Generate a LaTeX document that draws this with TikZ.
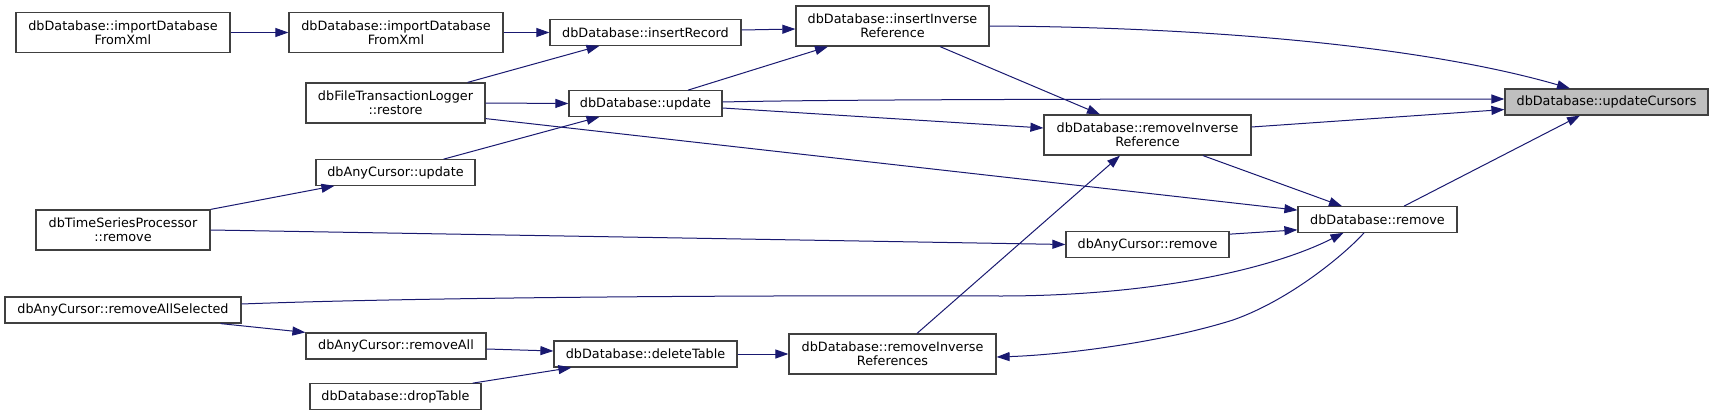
\documentclass[tikz,border=0pt]{standalone}
\usepackage{fontspec}
\setmainfont{DejaVu Sans}
\usetikzlibrary{arrows.meta,calc}
\definecolor{edgeblue}{HTML}{191970}
\definecolor{boxline}{HTML}{404040}
\definecolor{hilite}{HTML}{BFBFBF}
\begin{document}
\begin{tikzpicture}[x=1pt,y=-1pt,
  fn/.style={draw=boxline,line width=1.2pt,fill=white,inner sep=0pt,align=center,
    font=\fontsize{12.8}{14.2}\selectfont,text=black},
  e/.style={draw=edgeblue,line width=1pt,-{Triangle[length=13pt,width=9pt]},color=edgeblue}]
\useasboundingbox (0,0) rectangle (1713,415);
\node[fn,minimum width=214pt,minimum height=40pt] (imp1) at (123,32.5) {dbDatabase::importDatabase\\FromXml};
\node[fn,minimum width=214pt,minimum height=40pt] (imp2) at (396,32.5) {dbDatabase::importDatabase\\FromXml};
\node[fn,minimum width=191pt,minimum height=25.5pt] (insRec) at (645.5,32.5) {dbDatabase::insertRecord};
\node[fn,minimum width=193pt,minimum height=40pt] (insInv) at (892.5,26) {dbDatabase::insertInverse\\Reference};
\node[fn,minimum width=179pt,minimum height=40pt] (restore) at (395.5,103) {dbFileTransactionLogger\\::restore};
\node[fn,minimum width=153pt,minimum height=25.5pt] (upd) at (645.5,103.5) {dbDatabase::update};
\node[fn,minimum width=207pt,minimum height=40pt] (remInv) at (1147.5,135) {dbDatabase::removeInverse\\Reference};
\node[fn,fill=hilite,minimum width=203pt,minimum height=26pt] (updCur) at (1606.5,102) {dbDatabase::updateCursors};
\node[fn,minimum width=159pt,minimum height=25.5pt] (acUpd) at (395.5,172.5) {dbAnyCursor::update};
\node[fn,minimum width=174pt,minimum height=40pt] (tsp) at (123,230) {dbTimeSeriesProcessor\\::remove};
\node[fn,minimum width=163pt,minimum height=25.5pt] (acRem) at (1147.5,244.5) {dbAnyCursor::remove};
\node[fn,minimum width=159pt,minimum height=25.5pt] (dbRem) at (1377.5,219.5) {dbDatabase::remove};
\node[fn,minimum width=236pt,minimum height=26pt] (ras) at (123,310) {dbAnyCursor::removeAllSelected};
\node[fn,minimum width=180pt,minimum height=26pt] (remAll) at (396,346) {dbAnyCursor::removeAll};
\node[fn,minimum width=183pt,minimum height=26pt] (delT) at (645.5,354) {dbDatabase::deleteTable};
\node[fn,minimum width=207pt,minimum height=40pt] (remInvs) at (892.5,354) {dbDatabase::removeInverse\\References};
\node[fn,minimum width=171pt,minimum height=25.5pt] (dropT) at (395.5,396.5) {dbDatabase::dropTable};

% edges
\draw[e] (imp1.east) -- (imp2.west);
\draw[e] (imp2.east) -- (insRec.west);
\draw[e] ([xshift=-18pt]restore.north east) -- ([xshift=-46pt]insRec.south);
\draw[e] (restore.east) -- (upd.west);
\draw[e] ([xshift=-32pt]acUpd.north east) -- ([xshift=-46pt]upd.south);
\draw[e] (tsp.north east) -- ([xshift=19pt]acUpd.south west);
\draw[e] (tsp.east) -- (acRem.west);
\draw[e] ([yshift=5pt]restore.south east) -- ([yshift=-4pt]dbRem.north west);
\draw[e] ([yshift=-3pt]acRem.north east) -- ([yshift=3pt]dbRem.south west);
\draw[e] ([yshift=6pt]ras.east) .. controls (400,298) and (700,295) .. (1000,296)
   .. controls (1150,296) and (1270,270) .. ([xshift=-34pt]dbRem.south);
\draw[e] ([xshift=-21pt]ras.south east) -- (remAll.north west);
\draw[e] ([yshift=-3pt]remAll.east) -- ([yshift=3pt]delT.west);
\draw[e] ([xshift=-9pt]dropT.north east) -- ([xshift=18pt]delT.south west);
\draw[e] (delT.east) -- (remInvs.west);
\draw[e] ([xshift=-13.5pt]dbRem.south) .. controls (1345,254) and (1290,300) .. (1233,320)
   .. controls (1160,343) and (1060,355) .. ([yshift=-3pt]remInvs.east);
\draw[e] ([xshift=24.5pt]remInvs.north) -- ([xshift=-27.5pt]remInv.south);
\draw[e] ([xshift=42.5pt]upd.north) -- ([xshift=-64.5pt]insInv.south);
\draw[e] ([yshift=2.5pt]insRec.east) -- ([yshift=-3pt]insInv.west);
\draw[e] ([xshift=47.5pt]insInv.south) -- ([xshift=-47.5pt]remInv.north);
\draw[e] ([yshift=-4.5pt]upd.east) -- ([yshift=7pt]remInv.west);
\draw[e] ([xshift=55.5pt]remInv.south) -- ([xshift=-35.5pt]dbRem.north);
\draw[e] (insInv.east) .. controls (1200,27) and (1420,45) .. ([xshift=-36.5pt]updCur.north);
\draw[e] ([yshift=1.5pt]upd.east) .. controls (850,99) and (1200,99) .. ([yshift=3pt]updCur.west);
\draw[e] ([yshift=8pt]remInv.east) -- ([yshift=-7.5pt]updCur.west);
\draw[e] ([xshift=26.5pt]dbRem.north) -- ([xshift=-26.5pt]updCur.south);
\end{tikzpicture}
\end{document}
